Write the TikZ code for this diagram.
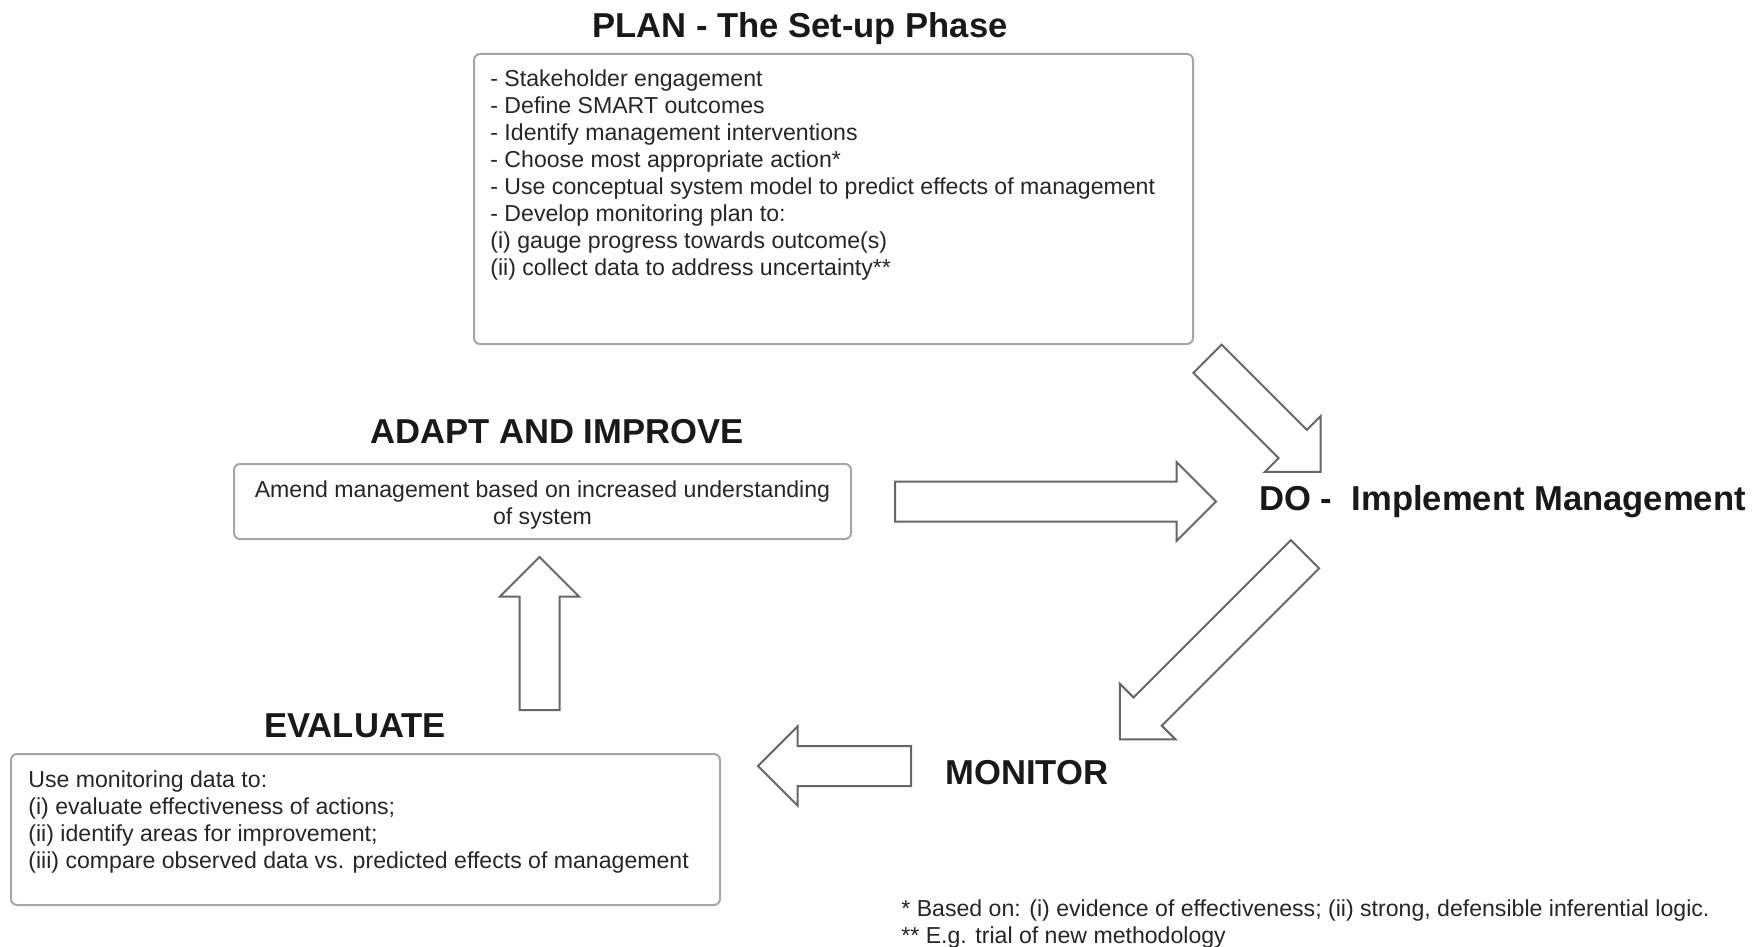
\documentclass[tikz,border=0pt]{standalone}
\usepackage{fontspec}
\setmainfont{Liberation Sans}

\tikzset{
  stagebox/.style={draw=gray!70, line width=1pt, rounded corners=3pt, inner sep=0pt},
  stagetitle/.style={font=\fontsize{17.3}{20}\selectfont\bfseries, text=black!90, inner sep=0pt, anchor=base},
  boxtext/.style={font=\fontsize{11.55}{13.5}\selectfont, text=black!85, inner sep=0pt, align=left, anchor=north west},
  flow/.style={draw=black!60, line width=1pt, fill=white, line join=miter}
}

% hollow block arrow: tail centre, direction, length
\newcommand{\blockarrow}[3]{%
  \draw[flow, shift={#1}, rotate=#2]
    (0pt,-10pt) -- ({#3*0.5pt-19.75pt},-10pt) -- ({#3*0.5pt-19.75pt},-19.75pt)
    -- ({#3*0.5pt},0pt) -- ({#3*0.5pt-19.75pt},19.75pt) -- ({#3*0.5pt-19.75pt},10pt)
    -- (0pt,10pt) -- cycle;}

\begin{document}
\begin{tikzpicture}[x=0.5pt, y=-0.5pt]
\useasboundingbox (0,0) rectangle (1762,947);

\node[stagetitle] (plantitle) at (800,38) {PLAN - The Set-up Phase};
\node[stagetitle] (adapttitle) at (557,443) {ADAPT AND IMPROVE};
\node[stagetitle] (evaltitle) at (355,737) {EVALUATE};
\node[stagetitle, anchor=base west] (monitor) at (945,784) {MONITOR};
\node[stagetitle, anchor=base west] (do) at (1259,510) {DO - \ Implement Management};

\node[stagebox, minimum width=359.5pt, minimum height=145pt] (plan) at (833.5,199) {};
\node[stagebox, minimum width=308.5pt, minimum height=37.5pt] (adapt) at (542.5,501.5) {};
\node[stagebox, minimum width=354.5pt, minimum height=75.5pt] (evaluate) at (365.5,829.5) {};

\node[boxtext] (plantext) at (490,69.8) {- Stakeholder engagement\\
  - Define SMART outcomes\\
  - Identify management interventions\\
  - Choose most appropriate action*\\
  - Use conceptual system model to predict effects of management\\
  - Develop monitoring plan to:\\
  (i) gauge progress towards outcome(s)\\
  (ii) collect data to address uncertainty**};
\node[boxtext, align=center, anchor=center] (adapttext) at (542.5,505)
  {Amend management based on increased understanding\\of system};
\node[boxtext] (evaltext) at (28,770.5) {Use monitoring data to:\\
  (i) evaluate effectiveness of actions;\\
  (ii) identify areas for improvement;\\
  (iii) compare observed data vs. predicted effects of management};
\node[boxtext] (notes) at (901,899.5) {* Based on: (i) evidence of effectiveness; (ii) strong, defensible inferential logic.\\
  ** E.g. trial of new methodology};

\blockarrow{(1207.5,358.8)}{-45}{160}
\blockarrow{(895,501.5)}{0}{321}
\blockarrow{(1305,554.2)}{-135}{262}
\blockarrow{(911,766)}{180}{153}
\blockarrow{(539.5,710)}{90}{153}
\end{tikzpicture}
\end{document}
